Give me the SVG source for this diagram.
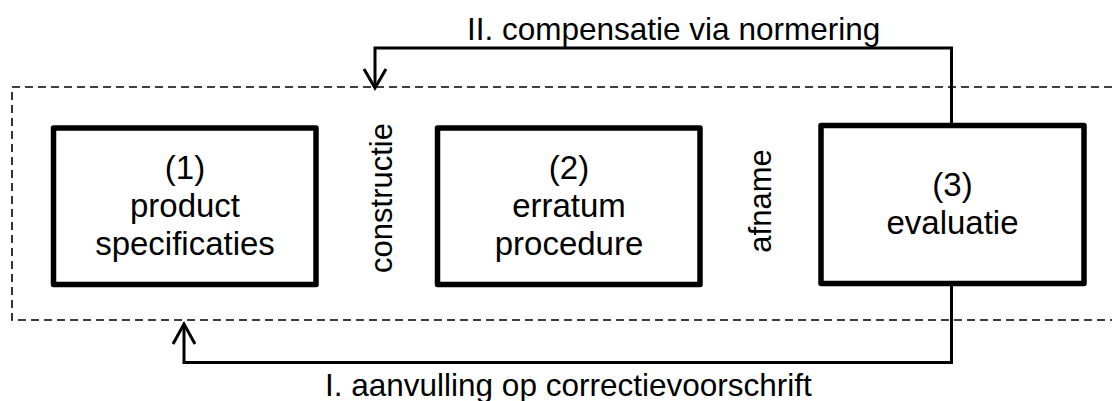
<svg xmlns="http://www.w3.org/2000/svg" width="1112" height="401" viewBox="0 0 1112 401">
<style>
.box{fill:#fff;stroke:#000;stroke-width:5.5;stroke-linejoin:round}
.lbl{font-family:"Liberation Sans",Arial,sans-serif;font-size:33px;fill:#000;text-anchor:middle}
.side{font-family:"Liberation Sans",Arial,sans-serif;font-size:31px;fill:#000;text-anchor:middle}
.edge{font-family:"Liberation Sans",Arial,sans-serif;font-size:31.5px;fill:#000}
.conn{fill:none;stroke:#000;stroke-width:3}
.dash{fill:none;stroke:#000;stroke-width:1.6;stroke-dasharray:8 5}
</style>
<rect width="1112" height="401" fill="#fff"/>
<g id="frame">
<path class="dash" d="M1112,87 H12 V320 H1112"/>
</g>
<g id="connectors">
<path class="conn" d="M951.5,126 V48 H375 V88"/>
<polyline class="conn" points="364,69 375,88 386,69"/>
<path class="conn" d="M951.5,283 V362.5 H184 V324"/>
<polyline class="conn" points="173,344 184,324 195,344"/>
<text class="edge" x="467" y="40">II. compensatie via normering</text>
<text class="edge" x="325" y="396">I. aanvulling op correctievoorschrift</text>
</g>
<g id="node1">
<rect class="box" x="53.5" y="128" width="262.5" height="156.5"/>
<text class="lbl" x="185" y="179">(1)</text>
<text class="lbl" x="185" y="217">product</text>
<text class="lbl" x="185" y="255">specificaties</text>
</g>
<g id="node2">
<rect class="box" x="437.5" y="128" width="262.5" height="156.5"/>
<text class="lbl" x="569" y="179">(2)</text>
<text class="lbl" x="569" y="217">erratum</text>
<text class="lbl" x="569" y="255">procedure</text>
</g>
<g id="node3">
<rect class="box" x="821" y="125.5" width="263" height="158"/>
<text class="lbl" x="952.5" y="196">(3)</text>
<text class="lbl" x="952.5" y="234">evaluatie</text>
</g>
<g id="label-constructie">
<text class="side" transform="translate(392,198) rotate(-90)">constructie</text>
</g>
<g id="label-afname">
<text class="side" transform="translate(771,201) rotate(-90)">afname</text>
</g>
</svg>
